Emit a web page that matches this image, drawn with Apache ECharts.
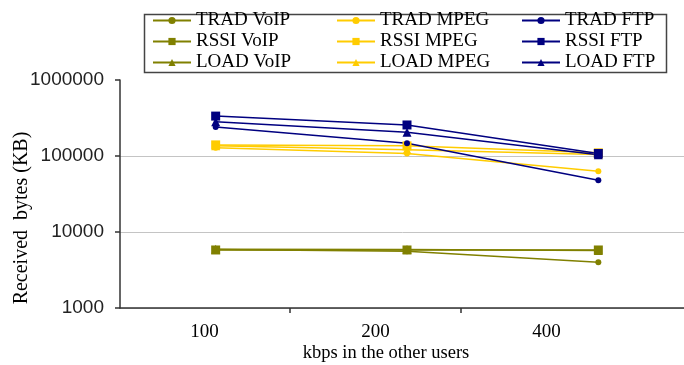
<!DOCTYPE html>
<html>
<head>
<meta charset="utf-8">
<script src="https://cdn.jsdelivr.net/npm/echarts@6/dist/echarts.min.js"></script>
<style>
html,body{margin:0;padding:0;background:#fff;}
#c{width:684px;height:365px;}
</style>
</head>
<body>
<div id="c"></div>
<script>
const categories = ['100', '200', '400'];
const tickCategories = ['100', '200', '400', ''];
const xTitle = 'kbps in the other users';
const yTitle = 'Received  bytes (KB)';
const tradVoip = [5900, 5600, 4000];
const rssiVoip = [5800, 5800, 5800];
const loadVoip = [5950, 5900, 5700];
const tradMpeg = [128000, 108000, 63000];
const rssiMpeg = [140000, 136000, 110000];
const loadMpeg = [136000, 121000, 105000];
const tradFtp = [240000, 147000, 48000];
const rssiFtp = [335000, 256000, 108000];
const loadFtp = [282000, 205000, 104000];

const OLIVE = '#808000', GOLD = '#FFCC00', NAVY = '#000080';
const SERIF = '"Liberation Serif", "DejaVu Serif", serif';
const SANS = '"Liberation Sans", Arial, sans-serif';

function mk(name, data, color, symbol, size) {
  return {
    name, type: 'line', data, xAxisIndex: 0, yAxisIndex: 0,
    symbol, symbolSize: size, showSymbol: true,
    lineStyle: { color, width: 1.5 },
    itemStyle: { color },
    emphasis: { disabled: true },
    animation: false
  };
}

const legendCommon = {
  orient: 'vertical', top: 11, padding: 0, itemGap: 2,
  itemWidth: 38, itemHeight: 9,
  textStyle: { fontFamily: SERIF, fontSize: 19, lineHeight: 18.5, color: '#000' },
  selectedMode: false
};

const chart = echarts.init(document.getElementById('c'));
chart.setOption({
  animation: false,
  backgroundColor: '#fff',
  grid: [
    { left: 120, right: -10, top: 80, bottom: 57, containLabel: false, outerBoundsMode: 'none' },
    { left: 119, right: -119, top: 80, bottom: 57, containLabel: false, outerBoundsMode: 'none' }
  ],
  legend: [
    Object.assign({ left: 152, data: ['TRAD VoIP', 'RSSI VoIP', 'LOAD VoIP'] }, legendCommon),
    Object.assign({ left: 336, data: ['TRAD MPEG', 'RSSI MPEG', 'LOAD MPEG'] }, legendCommon),
    Object.assign({ left: 521, data: ['TRAD FTP', 'RSSI FTP', 'LOAD FTP'] }, legendCommon)
  ],
  graphic: [
    {
      type: 'rect', left: 142, top: 12, z: -1,
      shape: { width: 522, height: 58 },
      style: { fill: 'none', stroke: '#444', lineWidth: 1.5 }
    },
    {
      type: 'text', x: 386, y: 353,
      style: { text: xTitle, font: '18.5px ' + SERIF, fill: '#000', align: 'center', verticalAlign: 'middle' }
    },
    {
      type: 'text', x: 22, y: 218, rotation: Math.PI / 2,
      style: { text: yTitle, font: '20px ' + SERIF, fill: '#000', align: 'center', verticalAlign: 'middle' }
    }
  ],
  xAxis: [
    {
      type: 'category', gridIndex: 0, data: categories,
      axisLine: { show: true, lineStyle: { color: '#333', width: 1.5 } },
      axisTick: { show: false }, axisLabel: { show: false },
      splitLine: { show: false }
    },
    {
      type: 'category', gridIndex: 1, data: tickCategories,
      axisLine: { show: false },
      axisTick: { show: true, length: 5, lineStyle: { color: '#333', width: 1.5 },
        interval: function (i) { return i === 1 || i === 2; } },
      axisLabel: { fontFamily: SERIF, fontSize: 19, color: '#000', margin: 15, interval: 0 },
      splitLine: { show: false }
    }
  ],
  yAxis: [
    {
      type: 'log', gridIndex: 0, logBase: 10, min: 1000, max: 1000000,
      axisLine: { show: true, lineStyle: { color: '#333', width: 1.5 } },
      axisTick: { show: true, length: 5, lineStyle: { color: '#333', width: 1.5 } },
      axisLabel: { fontFamily: SANS, fontSize: 19, color: '#222', margin: 16,
        formatter: function (v) { return String(Math.round(v)); } },
      splitLine: { show: true, showMaxLine: false, lineStyle: { color: '#c4c4c4', width: 1 } }
    },
    { type: 'log', gridIndex: 1, min: 1000, max: 1000000, show: false }
  ],
  series: [
    mk('TRAD VoIP', tradVoip, OLIVE, 'circle', 6),
    mk('RSSI VoIP', rssiVoip, OLIVE, 'rect', 9),
    mk('LOAD VoIP', loadVoip, OLIVE, 'triangle', 9),
    mk('TRAD MPEG', tradMpeg, GOLD, 'circle', 6),
    mk('RSSI MPEG', rssiMpeg, GOLD, 'rect', 9),
    mk('LOAD MPEG', loadMpeg, GOLD, 'triangle', 9),
    mk('TRAD FTP', tradFtp, NAVY, 'circle', 6),
    mk('RSSI FTP', rssiFtp, NAVY, 'rect', 9),
    mk('LOAD FTP', loadFtp, NAVY, 'triangle', 9)
  ]
});
</script>
</body>
</html>
